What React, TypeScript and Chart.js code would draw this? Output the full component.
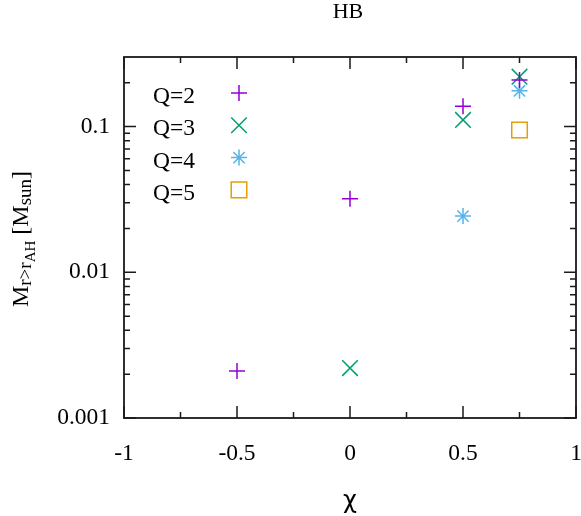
import React, { useEffect, useRef } from 'react';
import { Chart, registerables } from 'chart.js';
import { drawPoint } from 'chart.js/helpers';

Chart.register(...registerables);

const titleText = 'HB';
const xTitle = 'χ';
const seriesNames = ['Q=2', 'Q=3', 'Q=4', 'Q=5'];
const seriesColors = ['#9400d3', '#009e73', '#56b4e9', '#e69f00'];
const q2X = [-0.5, 0, 0.5, 0.75];
const q2Y = [0.0021, 0.032, 0.138, 0.209];
const q3X = [0, 0.5, 0.75];
const q3Y = [0.0022, 0.111, 0.22];
const q4X = [0.5, 0.75];
const q4Y = [0.0243, 0.176];
const q5X = [0.75];
const q5Y = [0.0948];
const xMajorTicks = [-1, -0.5, 0, 0.5, 1];
const xMinorTicks = [-0.75, -0.25, 0.25, 0.75];
const yMajorTicks = [0.001, 0.01, 0.1];
const yMajorLabels = ['0.001', '0.01', '0.1'];
const yMinorTicks = [
  0.002, 0.003, 0.004, 0.005, 0.006, 0.007, 0.008, 0.009,
  0.02, 0.03, 0.04, 0.05, 0.06, 0.07, 0.08, 0.09,
  0.2,
];

const SERIF = '"Liberation Serif", "Times New Roman", serif';
const SANS = '"DejaVu Sans", sans-serif';
const AXIS_COLOR = '#1a1a1a';
const LABEL_SIZE = 23.5;

const pointStyles = ['cross', 'crossRot', 'star', 'rect'];
const pointRadii = [8, 11, 8, 11];

function pts(xs: number[], ys: number[]) {
  return xs.map((x, i) => ({ x, y: ys[i] }));
}

const decorPlugin = {
  id: 'decor',
  beforeDatasetsDraw(chart: any) {
    const { ctx, chartArea } = chart;
    const { left, right, top, bottom } = chartArea;
    const xs = chart.scales.x;
    const ys = chart.scales.y;
    ctx.save();
    ctx.strokeStyle = AXIS_COLOR;
    ctx.lineWidth = 1.5;
    ctx.beginPath();
    const tick = (len: number, isX: boolean, v: number) => {
      if (isX) {
        const p = xs.getPixelForValue(v);
        ctx.moveTo(p, bottom);
        ctx.lineTo(p, bottom - len);
        ctx.moveTo(p, top);
        ctx.lineTo(p, top + len);
      } else {
        const p = ys.getPixelForValue(v);
        ctx.moveTo(left, p);
        ctx.lineTo(left + len, p);
        ctx.moveTo(right, p);
        ctx.lineTo(right - len, p);
      }
    };
    xMajorTicks.forEach((v) => tick(12, true, v));
    xMinorTicks.forEach((v) => tick(6, true, v));
    yMajorTicks.forEach((v) => tick(12, false, v));
    yMinorTicks.forEach((v) => tick(6, false, v));
    ctx.stroke();
    ctx.lineWidth = 1.8;
    ctx.strokeRect(left, top, right - left, bottom - top);
    ctx.restore();
  },
  afterDraw(chart: any) {
    const { ctx, chartArea } = chart;
    const cx = (chartArea.left + chartArea.right) / 2;
    ctx.save();
    ctx.fillStyle = '#000';
    // title
    ctx.font = `22px ${SERIF}`;
    ctx.textAlign = 'center';
    ctx.textBaseline = 'alphabetic';
    ctx.fillText(titleText, 348, 18);
    // x title
    ctx.font = `24px ${SANS}`;
    ctx.fillText(xTitle, cx, 508);
    ctx.restore();

    // y title with subscripts
    ctx.save();
    ctx.fillStyle = '#000';
    const segs = [
      { t: 'M', s: 24, dy: 0 },
      { t: 'r>r', s: 19, dy: 3 },
      { t: 'AH', s: 15, dy: 7 },
      { t: ' [M', s: 24, dy: 0 },
      { t: 'sun', s: 19, dy: 3 },
      { t: ']', s: 24, dy: 0 },
    ];
    let total = 0;
    const widths = segs.map((sg) => {
      ctx.font = `${sg.s}px ${SERIF}`;
      const w = ctx.measureText(sg.t).width;
      total += w;
      return w;
    });
    ctx.translate(27.5, 239);
    ctx.rotate(-Math.PI / 2);
    ctx.textAlign = 'left';
    ctx.textBaseline = 'alphabetic';
    let px = -total / 2;
    segs.forEach((sg, i) => {
      ctx.font = `${sg.s}px ${SERIF}`;
      ctx.fillText(sg.t, px, sg.dy);
      px += widths[i];
    });
    ctx.restore();

    // legend
    ctx.save();
    ctx.font = `${LABEL_SIZE}px ${SERIF}`;
    ctx.textAlign = 'left';
    ctx.textBaseline = 'alphabetic';
    seriesNames.forEach((name, i) => {
      const y = 93 + i * 32.3;
      ctx.fillStyle = '#000';
      ctx.fillText(name, 153, y + 10);
      ctx.strokeStyle = seriesColors[i];
      ctx.fillStyle = 'rgba(0,0,0,0)';
      ctx.lineWidth = 1.5;
      drawPoint(ctx, { pointStyle: pointStyles[i], radius: pointRadii[i], rotation: 0, borderWidth: 1.5 }, 239, y);
    });
    ctx.restore();
  },
};

export default function App() {
  const ref = useRef<HTMLCanvasElement | null>(null);
  useEffect(() => {
    const prevMargin = document.body.style.margin;
    document.body.style.margin = '0';
    const canvas = ref.current!;
    const datasets = [
      [q2X, q2Y],
      [q3X, q3Y],
      [q4X, q4Y],
      [q5X, q5Y],
    ].map(([xs, ys], i) => ({
      label: seriesNames[i],
      data: pts(xs, ys),
      pointStyle: pointStyles[i],
      pointRadius: pointRadii[i],
      pointHoverRadius: pointRadii[i],
      borderColor: seriesColors[i],
      backgroundColor: 'rgba(0,0,0,0)',
      pointBorderWidth: 1.5,
      showLine: false,
    }));
    const chart = new Chart(canvas, {
      type: 'scatter',
      data: { datasets },
      plugins: [decorPlugin],
      options: {
        responsive: false,
        animation: false,
        events: [],
        layout: { autoPadding: false, padding: { top: 57, right: 5, left: 0, bottom: 0 } },
        plugins: {
          legend: { display: false },
          tooltip: { enabled: false },
          title: { display: false },
        },
        scales: {
          x: {
            type: 'linear',
            min: -1,
            max: 1,
            afterFit: (s: any) => { s.height = 98; s.paddingLeft = 0; s.paddingRight = 0; },
            afterBuildTicks: (s: any) => { s.ticks = xMajorTicks.map((v) => ({ value: v })); },
            grid: { display: false, drawTicks: false },
            border: { display: false },
            ticks: {
              padding: 22,
              autoSkip: false,
              maxRotation: 0,
              color: '#000',
              font: { family: SERIF, size: LABEL_SIZE },
              callback: (v: any) => String(v),
            },
          },
          y: {
            type: 'logarithmic',
            min: 0.001,
            max: 0.3,
            afterFit: (s: any) => { s.width = 124; s.paddingTop = 0; s.paddingBottom = 0; },
            afterBuildTicks: (s: any) => { s.ticks = yMajorTicks.map((v) => ({ value: v })); },
            grid: { display: false, drawTicks: false },
            border: { display: false },
            ticks: {
              padding: 14,
              autoSkip: false,
              color: '#000',
              font: { family: SERIF, size: LABEL_SIZE },
              callback: (v: any) => {
                const idx = yMajorTicks.findIndex((t) => Math.abs(t - Number(v)) / t < 1e-6);
                return idx >= 0 ? yMajorLabels[idx] : '';
              },
            },
          },
        },
      },
    });
    return () => {
      chart.destroy();
      document.body.style.margin = prevMargin;
    };
  }, []);
  return (
    <div style={{ position: 'absolute', left: 0, top: 0, width: 581, height: 516, background: '#fff' }}>
      <canvas ref={ref} width={581} height={516} style={{ width: 581, height: 516, display: 'block' }} />
    </div>
  );
}
